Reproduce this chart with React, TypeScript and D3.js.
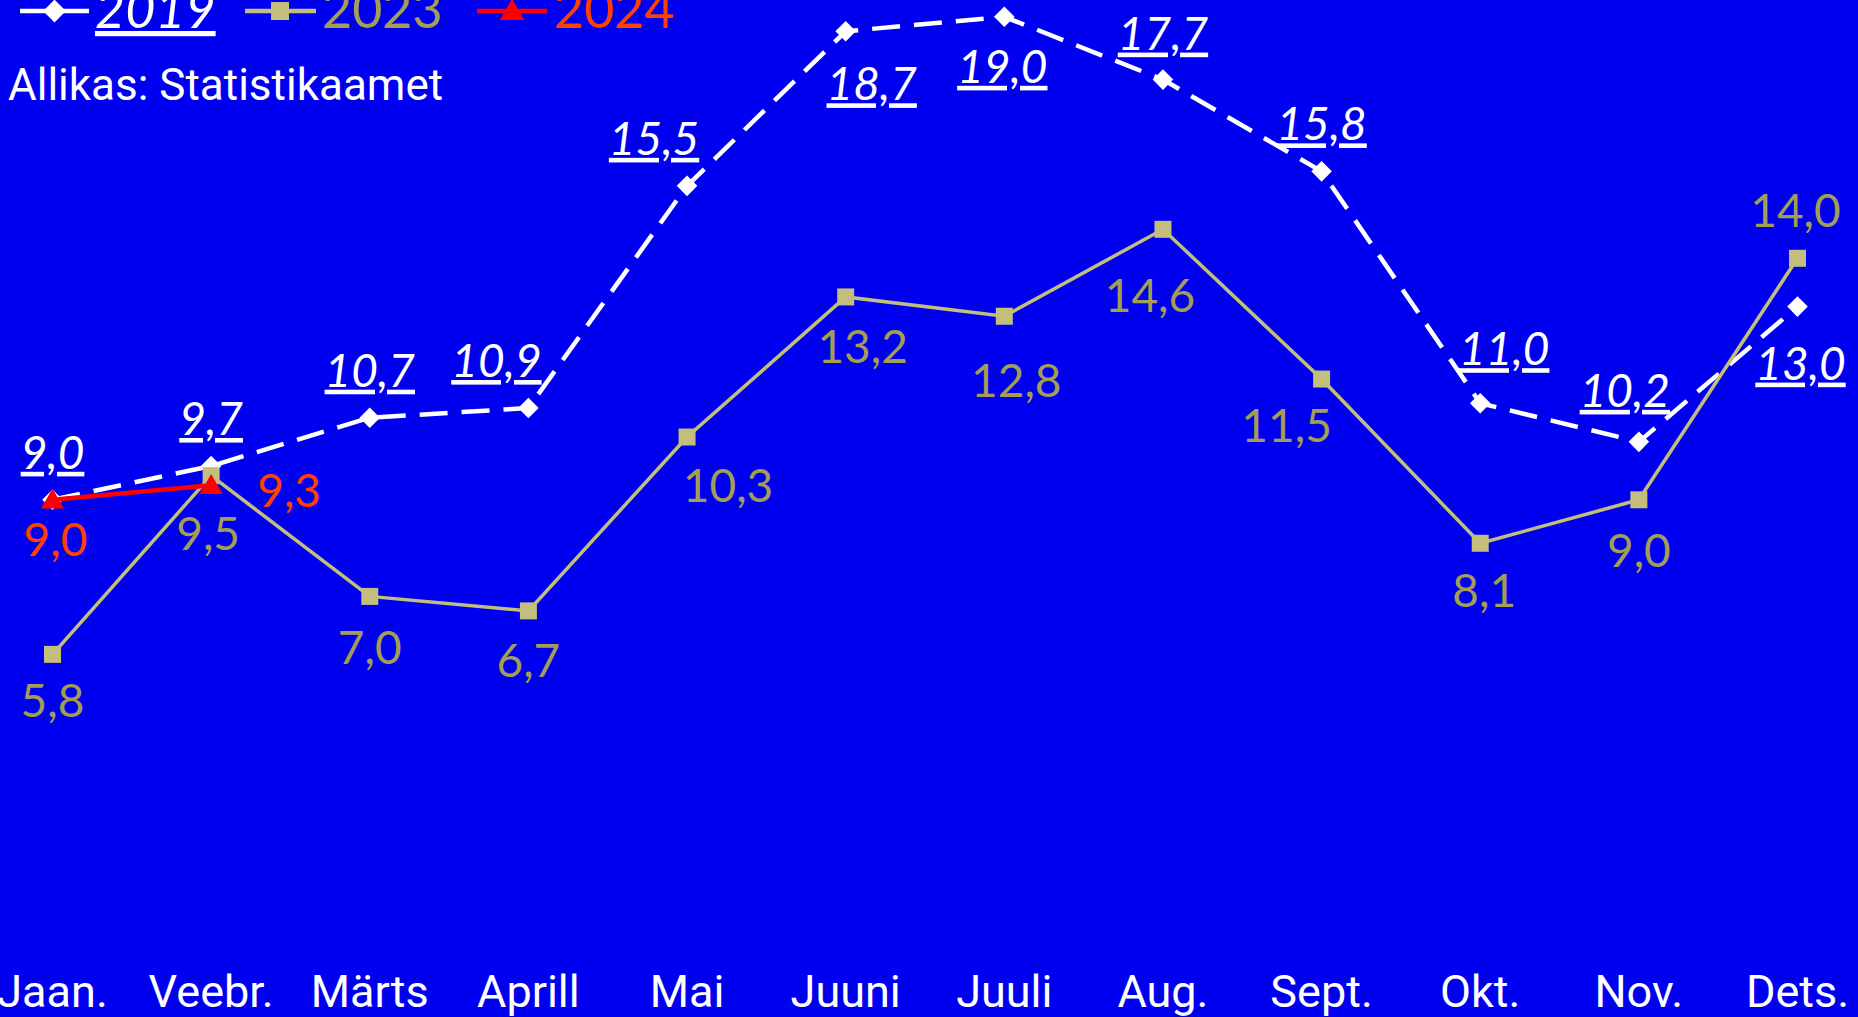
import React from "react";
import * as d3 from "d3";

const months = ["Jaan.", "Veebr.", "Märts", "Aprill", "Mai", "Juuni", "Juuli", "Aug.", "Sept.", "Okt.", "Nov.", "Dets."];
const values2019 = [9.0, 9.7, 10.7, 10.9, 15.5, 18.7, 19.0, 17.7, 15.8, 11.0, 10.2, 13.0];
const values2023 = [5.8, 9.5, 7.0, 6.7, 10.3, 13.2, 12.8, 14.6, 11.5, 8.1, 9.0, 14.0];
const values2024 = [9.0, 9.3];
const seriesNames = ["2019", "2023", "2024"];
const sourceText = "Allikas: Statistikaamet";

// label placement offsets (layout)
const off2019: [number, number][] = [[0, -31], [0, -31], [0, -31], [-32, -31], [-33, -31], [26, 69], [-2, 66], [0, -30], [0, -31], [24, -38], [-14, -35], [3, 73]];
const off2023: [number, number][] = [[0, 63], [-3, 74], [0, 68], [0, 66], [41, 65], [17, 66], [12, 81], [-13, 83], [-35, 63], [4, 64], [0, 67], [-2, -31]];
const off2024: [number, number][] = [[3, 56], [78, 22]];

const W = 1858, H = 1017;
const BG = "#0000f0";
const C2019 = "#ffffff";
const C2023 = "#c4be7c";
const C2023T = "#a39d55";
const C2024 = "#ff0000";
const C2024T = "#ff4000";
const LABEL_FONT = "Lato, 'Open Sans', sans-serif";
const LABEL_WEIGHT = 400;
const AXIS_FONT = "Roboto, Inter, sans-serif";

const fmt = (v: number) => v.toFixed(1).replace(".", ",");

export default function App() {
  const x = d3.scalePoint<string>().domain(months).range([52.5, 1797.5]);
  const y = d3.scaleLinear().domain([0, 20]).range([934.5, 934.5 - 20 * 48.3]);
  const line = d3.line<number>().x((_, i) => x(months[i])!).y((d) => y(d));

  const diamond = d3.symbol().type(d3.symbolDiamond2).size(270)();
  const square = d3.symbol().type(d3.symbolSquare).size(289)();
  const triangle = d3.symbol().type(d3.symbolTriangle).size(230)();
  const legDiamond = d3.symbol().type(d3.symbolDiamond2).size(330)();
  const legSquare = d3.symbol().type(d3.symbolSquare).size(324)();
  const legTriangle = d3.symbol().type(d3.symbolTriangle).size(260)();

  return (
    <svg width={W} height={H} style={{ position: "absolute", left: 0, top: 0, background: BG }}>
      <rect width={W} height={H} fill={BG} />
      {/* 2019 */}
      <path d={line(values2019)!} fill="none" stroke={C2019} strokeWidth={4.5} strokeDasharray="28,14" />
      {values2019.map((v, i) => (
        <path key={"d" + i} d={diamond} transform={`translate(${x(months[i])},${y(v)})`} fill={C2019} />
      ))}
      {/* 2023 */}
      <path d={line(values2023)!} fill="none" stroke={C2023} strokeWidth={3.5} />
      {values2023.map((v, i) => (
        <path key={"s" + i} d={square} transform={`translate(${x(months[i])},${y(v)})`} fill={C2023} />
      ))}
      {/* 2024 */}
      <path d={line(values2024)!} fill="none" stroke={C2024} strokeWidth={4.5} />
      {values2024.map((v, i) => (
        <path key={"t" + i} d={triangle} transform={`translate(${x(months[i])},${y(v) + 2})`} fill={C2024} />
      ))}

      {/* labels */}
      {values2019.map((v, i) => (
        <text key={"l19" + i} x={x(months[i])! + off2019[i][0]} y={y(v) + off2019[i][1]} textAnchor="middle"
          fontFamily={LABEL_FONT} fontWeight={LABEL_WEIGHT} fontStyle="italic" fontSize={46} fill={C2019} textDecoration="underline">{fmt(v)}</text>
      ))}
      {values2023.map((v, i) => (
        <text key={"l23" + i} x={x(months[i])! + off2023[i][0]} y={y(v) + off2023[i][1]} textAnchor="middle"
          fontFamily={LABEL_FONT} fontWeight={LABEL_WEIGHT} fontSize={46} fill={C2023T}>{fmt(v)}</text>
      ))}
      {values2024.map((v, i) => (
        <text key={"l24" + i} x={x(months[i])! + off2024[i][0]} y={y(v) + off2024[i][1]} textAnchor="middle"
          fontFamily={LABEL_FONT} fontWeight={LABEL_WEIGHT} fontSize={46} fill={C2024T}>{fmt(v)}</text>
      ))}

      {/* x axis labels */}
      {months.map((m) => (
        <text key={m} x={x(m)} y={1007} textAnchor="middle" fontFamily={AXIS_FONT} fontSize={45} fill="#fff">{m}</text>
      ))}

      {/* legend */}
      <g>
        <line x1={20} x2={89} y1={11} y2={11} stroke={C2019} strokeWidth={4.5} />
        <path d={legDiamond} transform="translate(54.5,11)" fill={C2019} />
        <text x={95} y={28} fontFamily={LABEL_FONT} fontWeight={LABEL_WEIGHT} fontStyle="italic" fontSize={52} fill={C2019} textDecoration="underline">{seriesNames[0]}</text>
        <line x1={245} x2={316} y1={11} y2={11} stroke={C2023} strokeWidth={4.5} />
        <path d={legSquare} transform="translate(280,11)" fill={C2023} />
        <text x={322} y={28} fontFamily={LABEL_FONT} fontWeight={LABEL_WEIGHT} fontSize={52} fill={C2023T}>{seriesNames[1]}</text>
        <line x1={477} x2={547} y1={11} y2={11} stroke={C2024} strokeWidth={4.5} />
        <path d={legTriangle} transform="translate(512,13)" fill={C2024} />
        <text x={554} y={28} fontFamily={LABEL_FONT} fontWeight={LABEL_WEIGHT} fontSize={52} fill={C2024T}>{seriesNames[2]}</text>
      </g>
      <text x={8} y={100} fontFamily={AXIS_FONT} fontSize={44} fill="#fff">{sourceText}</text>
    </svg>
  );
}
